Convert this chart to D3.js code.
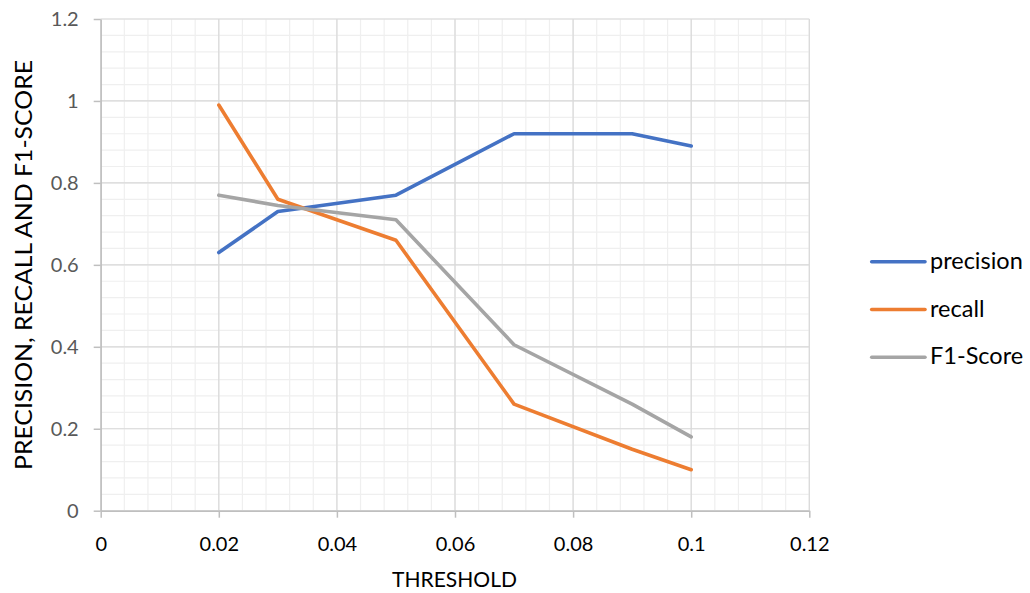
<!DOCTYPE html>
<html><head><meta charset="utf-8">
<script src="https://cdn.jsdelivr.net/npm/d3@7"></script>
<style>body{margin:0;background:#fff}svg{display:block}text{font-family:Lato,"Open Sans",sans-serif}</style>
</head><body>
<svg id="c" width="1030" height="593"></svg>
<script>
const thresholds = [0.02, 0.03, 0.05, 0.07, 0.09, 0.1];
const precision = [0.63, 0.73, 0.77, 0.92, 0.92, 0.89];
const recall = [0.99, 0.76, 0.66, 0.26, 0.15, 0.10];
const f1Score = [0.77, 0.745, 0.71, 0.405, 0.26, 0.18];
const seriesNames = ["precision", "recall", "F1-Score"];
const colors = ["#4472C4", "#ED7D31", "#A5A5A5"];
const xTicks = [0, 0.02, 0.04, 0.06, 0.08, 0.1, 0.12];
const yTicks = [0, 0.2, 0.4, 0.6, 0.8, 1, 1.2];

const svg = d3.select("#c");
const x = d3.scaleLinear().domain([0, 0.12]).range([100.7, 809.3]);
const y = d3.scaleLinear().domain([0, 1.2]).range([510.7, 19]);

// minor grid
const g = svg.append("g");
const xMinor = d3.range(0, 0.12 + 1e-9, 0.004);
const yMinor = d3.range(0, 1.2 + 1e-9, 0.04);
g.selectAll(".vm").data(xMinor).join("line")
  .attr("x1", d => x(d)).attr("x2", d => x(d)).attr("y1", y(0)).attr("y2", y(1.2))
  .attr("stroke", "#efefef").attr("stroke-width", 1.2);
g.selectAll(".hm").data(yMinor).join("line")
  .attr("y1", d => y(d)).attr("y2", d => y(d)).attr("x1", x(0)).attr("x2", x(0.12))
  .attr("stroke", "#efefef").attr("stroke-width", 1.2);
// major grid
g.selectAll(".vM").data(xTicks).join("line")
  .attr("x1", d => x(d)).attr("x2", d => x(d)).attr("y1", y(0)).attr("y2", y(1.2))
  .attr("stroke", "#d9d9d9").attr("stroke-width", 1.2);
g.selectAll(".hM").data(yTicks).join("line")
  .attr("y1", d => y(d)).attr("y2", d => y(d)).attr("x1", x(0)).attr("x2", x(0.12))
  .attr("stroke", "#d9d9d9").attr("stroke-width", 1.2);

// axes
const xAxis = svg.append("g").attr("transform", `translate(0,${y(0)})`)
  .call(d3.axisBottom(x).tickValues(xTicks).tickFormat(d => d3.format("~g")(+d.toFixed(2))).tickSize(7).tickSizeOuter(0).tickPadding(19));
xAxis.select(".domain").attr("stroke", "#bfbfbf").attr("stroke-width", 1.5);
xAxis.selectAll(".tick line").attr("stroke", "#bfbfbf").attr("stroke-width", 1.5);
xAxis.selectAll("text").attr("font-size", 20).attr("fill", "#000").attr("font-family", "Lato, sans-serif");

const yAxis = svg.append("g").attr("transform", `translate(${x(0)},0)`)
  .call(d3.axisLeft(y).tickValues(yTicks).tickFormat(d => d3.format("~g")(+d.toFixed(1))).tickSize(7).tickSizeOuter(0).tickPadding(15));
yAxis.select(".domain").attr("stroke", "#bfbfbf").attr("stroke-width", 1.5);
yAxis.selectAll(".tick line").attr("stroke", "#bfbfbf").attr("stroke-width", 1.5);
yAxis.selectAll("text").attr("font-size", 20).attr("fill", "#595959").attr("font-family", "Lato, sans-serif");

// lines
const allSeries = [precision, recall, f1Score];
const line = d3.line().x((d, i) => x(thresholds[i])).y(d => y(d));
allSeries.forEach((s, k) => {
  svg.append("path").datum(s).attr("d", line).attr("fill", "none")
    .attr("stroke", colors[k]).attr("stroke-width", 3.6).attr("stroke-linejoin", "round").attr("stroke-linecap", "round");
});

// titles
svg.append("text").attr("x", 454.5).attr("y", 587).attr("text-anchor", "middle")
  .attr("font-size", 21).attr("fill", "#000").attr("textLength", 125).attr("lengthAdjust", "spacingAndGlyphs").text("THRESHOLD");
svg.append("text").attr("transform", "translate(32,265) rotate(-90)").attr("text-anchor", "middle")
  .attr("font-size", 23).attr("fill", "#000").attr("textLength", 410).attr("lengthAdjust", "spacingAndGlyphs").text("PRECISION, RECALL AND F1-SCORE");

// legend
const lg = svg.append("g");
seriesNames.forEach((n, k) => {
  const ly = 261.7 + k * 47.8;
  lg.append("line").attr("x1", 871.7).attr("x2", 925).attr("y1", ly).attr("y2", ly)
    .attr("stroke", colors[k]).attr("stroke-width", 3.6).attr("stroke-linecap", "round");
  lg.append("text").attr("x", 930).attr("y", ly + 7).attr("font-size", 23.5).attr("fill", "#000").text(n);
});
</script>
</body></html>
